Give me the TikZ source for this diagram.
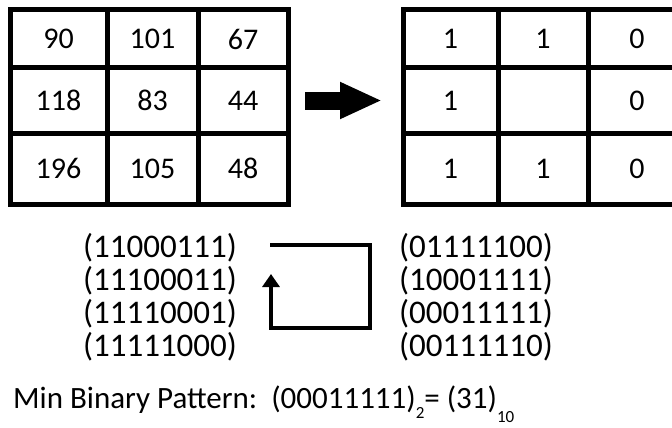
\documentclass[tikz,border=0pt]{standalone}
\usepackage{fontspec}
\setmainfont{Carlito}
\usetikzlibrary{arrows.meta}

\begin{document}
\begin{tikzpicture}[x=1pt, y=-1pt]
    % Node styles
    \tikzstyle{cell} = [rectangle, draw, line width=5pt, inner sep=0pt, font=\fontsize{30}{33}\selectfont]
    \tikzstyle{code} = [inner sep=0pt, font=\fontsize{33}{36}\selectfont]

    % Frame
    \useasboundingbox (0,0) rectangle (672,428);
    \clip (0,0) rectangle (672,428);
    \fill[white] (0,0) rectangle (672,428);

    % Left grid (grey values)
    \node[cell, minimum width=97, minimum height=58] (a11) at (58.5,39) {90};
    \node[cell, minimum width=91, minimum height=58] (a12) at (152.5,39) {101};
    \node[cell, minimum width=90, minimum height=58] (a13) at (243,39) {67};
    \node[cell, minimum width=97, minimum height=65] (a21) at (58.5,100.5) {118};
    \node[cell, minimum width=91, minimum height=65] (a22) at (152.5,100.5) {83};
    \node[cell, minimum width=90, minimum height=65] (a23) at (243,100.5) {44};
    \node[cell, minimum width=97, minimum height=71] (a31) at (58.5,168.5) {196};
    \node[cell, minimum width=91, minimum height=71] (a32) at (152.5,168.5) {105};
    \node[cell, minimum width=90, minimum height=71] (a33) at (243,168.5) {48};

    % Right grid (thresholded)
    \node[cell, minimum width=95, minimum height=58] (b11) at (450.5,39) {1};
    \node[cell, minimum width=90, minimum height=58] (b12) at (543,39) {1};
    \node[cell, minimum width=98, minimum height=58] (b13) at (637,39) {0};
    \node[cell, minimum width=95, minimum height=65] (b21) at (450.5,100.5) {1};
    \node[cell, minimum width=90, minimum height=65] (b22) at (543,100.5) {};
    \node[cell, minimum width=98, minimum height=65] (b23) at (637,100.5) {0};
    \node[cell, minimum width=95, minimum height=71] (b31) at (450.5,168.5) {1};
    \node[cell, minimum width=90, minimum height=71] (b32) at (543,168.5) {1};
    \node[cell, minimum width=98, minimum height=71] (b33) at (637,168.5) {0};

    % Big arrow
    \draw[line width=18pt, -{Triangle[length=42pt, width=34pt]}, shorten <=14.5pt, shorten >=18.5pt] (a23) -- (b21);

    % Rotations
    \node[code] (l1) at (160,248) {(11000111)};
    \node[code] (l2) at (160,281) {(11100011)};
    \node[code] (l3) at (160,314) {(11110001)};
    \node[code] (l4) at (160,347) {(11111000)};
    \node[code] (r1) at (476,248) {(01111100)};
    \node[code] (r2) at (476,281) {(10001111)};
    \node[code] (r3) at (476,314) {(00011111)};
    \node[code] (r4) at (476,347) {(00111110)};

    % Loop arrow
    \coordinate (tl) at (270,245);
    \coordinate (tr) at (370,245);
    \coordinate (br) at (370,328);
    \coordinate (bl) at (271,328);
    \coordinate (tip) at (271,274);
    \draw[line width=4.5pt, -{Triangle[length=13pt, width=17pt]}] (tl) -- (tr) -- (br) -- (bl) -- (tip);

    % Result
    \node[anchor=base west, inner sep=0pt, font=\fontsize{31}{34}\selectfont] (res) at (13,408)
        {Min Binary Pattern:\ \ (00011111)\raisebox{-10pt}{\fontsize{17}{17}\selectfont 2}= (31)\raisebox{-14pt}{\fontsize{17}{17}\selectfont 10}};
\end{tikzpicture}
\end{document}
